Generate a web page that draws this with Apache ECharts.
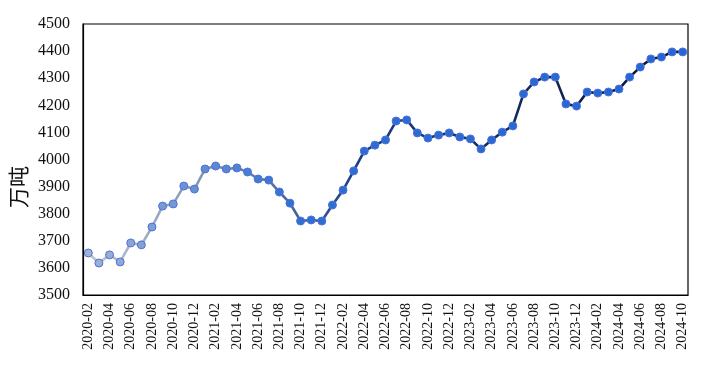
<!DOCTYPE html>
<html><head><meta charset="utf-8">
<script src="https://cdn.jsdelivr.net/npm/echarts@6/dist/echarts.min.js"></script>
<style>html,body{margin:0;padding:0;background:#fff}#c{width:719px;height:371px}</style>
</head><body><div id="c"></div>
<script>
const months = [];
(function(){for(let y=2020;y<=2024;y++){for(let m=1;m<=12;m++){if(y===2020&&m<2)continue;if(y===2024&&m>10)continue;months.push(y+'-'+(m<10?'0'+m:m));}}})();
const values = [3655,3618,3648,3622,3692,3685,3751,3828,3836,3902,3891,3965,3976,3965,3969,3954,3928,3924,3880,3839,3773,3777,3773,3832,3887,3958,4031,4053,4072,4142,4146,4098,4079,4090,4098,4083,4076,4039,4072,4101,4124,4242,4286,4304,4304,4205,4197,4249,4245,4249,4260,4304,4341,4371,4378,4397,4397];
const yTicks = {min:3500,max:4500,interval:100};
const yName = '万吨';

function mix(a,b,t){const pa=[parseInt(a.slice(1,3),16),parseInt(a.slice(3,5),16),parseInt(a.slice(5,7),16)];const pb=[parseInt(b.slice(1,3),16),parseInt(b.slice(3,5),16),parseInt(b.slice(5,7),16)];return 'rgb('+pa.map((v,i)=>Math.round(v+(pb[i]-v)*t)).join(',')+')';}
const n = values.length;
const chart = echarts.init(document.getElementById('c'));
chart.setOption({
  animation:false,
  grid:{left:83,right:31,top:24,bottom:76,show:true,borderColor:'#000',borderWidth:1.2},
  graphic:[{type:'text',x:18,y:187,rotation:Math.PI/2,style:{text:yName,font:'21px "Noto Sans CJK SC"',fill:'#111',align:'center',verticalAlign:'middle'}}],
  xAxis:{type:'category',data:months,boundaryGap:true,
    axisLine:{lineStyle:{color:'#000',width:1.2}},axisTick:{show:false},
    axisLabel:{interval:1,rotate:90,fontFamily:'Liberation Serif',fontSize:14,color:'#111',margin:8}},
  yAxis:{type:'value',min:yTicks.min,max:yTicks.max,interval:yTicks.interval,
    axisLine:{show:true,lineStyle:{color:'#000',width:1.2}},axisTick:{show:false},splitLine:{show:false},
    axisLabel:{fontFamily:'Liberation Serif',fontSize:16,color:'#111',margin:13,formatter:function(v){return String(v);}}},
  series:[{type:'line',data:values,symbol:'circle',symbolSize:8,showAllSymbol:true,
    lineStyle:{width:2.6,color:new echarts.graphic.LinearGradient(0,0,1,0,[{offset:0,color:'#c0c8d4'},{offset:0.25,color:'#6f86ad'},{offset:0.45,color:'#1d3f86'},{offset:1,color:'#0a1430'}])},
    itemStyle:{color:function(p){const t=p.dataIndex/(n-1);return t<0.35?mix('#9fb4d2','#2f6fd0',t/0.35):mix('#2f6fd0','#2466d4',(t-0.35)/0.65);},
      borderColor:function(p){return 'rgba(10,20,50,'+Math.min(1,p.dataIndex/(n-1)*1.6).toFixed(2)+')';},borderWidth:1}
  }]
});
</script></body></html>
